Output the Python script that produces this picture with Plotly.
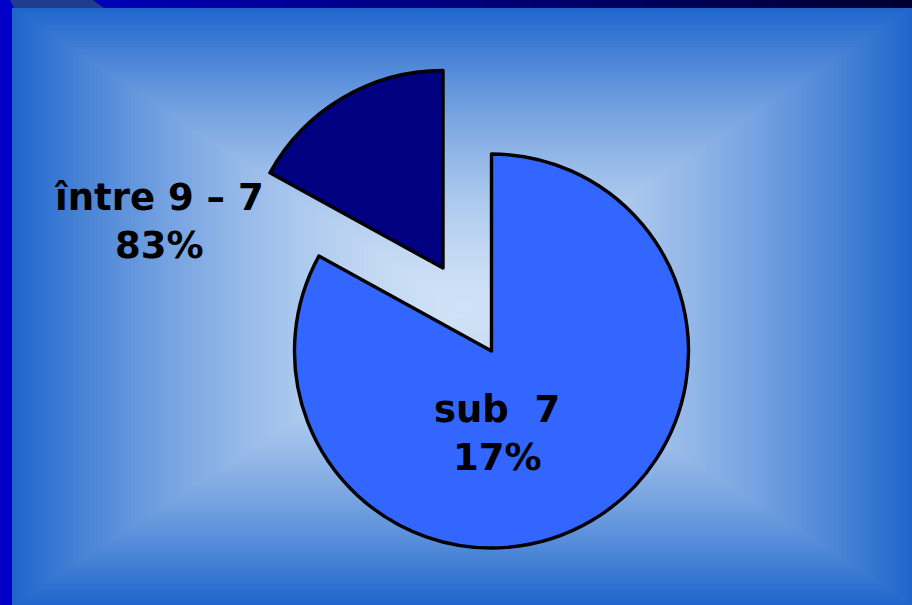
import plotly.graph_objects as go

# ---- data ----
labels = ["sub  7", "între 9 – 7"]
values = [83, 17]
shown_pct = ["17%", "83%"]
slice_colors = ["#3366ff", "#000080"]

W, H = 912, 605


def px(x):
    return x / W


def py(y):
    return 1 - y / H


def hex2rgb(h):
    h = h.lstrip("#")
    return tuple(int(h[i:i + 2], 16) for i in (0, 2, 4))


def lerp(c1, c2, f):
    a, b = hex2rgb(c1), hex2rgb(c2)
    return "rgb(%d,%d,%d)" % tuple(round(a[i] + (b[i] - a[i]) * f) for i in range(3))


shapes = []
# left frame bar
shapes.append(dict(type="rect", xref="paper", yref="paper", x0=0, x1=px(12), y0=0, y1=1,
                   fillcolor="#0000c8", line_width=0, layer="below"))
# top frame bar (horizontal gradient)
NT = 40
for i in range(NT):
    x0 = 12 + (W - 12) * i / NT
    x1 = 12 + (W - 12) * (i + 1) / NT + 0.5
    shapes.append(dict(type="rect", xref="paper", yref="paper", x0=px(x0), x1=px(x1),
                       y0=py(8), y1=1, fillcolor=lerp("#0000c4", "#000030", i / (NT - 1)),
                       line_width=0, layer="below"))
shapes.append(dict(type="rect", xref="paper", yref="paper", x0=0, x1=px(12),
                   y0=py(8), y1=1, fillcolor="#0000c8", line_width=0, layer="below"))
# slanted slab in top-left corner of bar
shapes.append(dict(type="path", xref="paper", yref="paper",
                   path="M %f,%f L %f,%f L %f,%f L %f,%f Z" % (px(10), py(0), px(93), py(0),
                                                               px(104), py(8), px(14), py(8)),
                   fillcolor="#203c8e", line_width=0, layer="below"))

# box gradient background
edge_c, center_c = "#1f66cc", "#cfe1f6"
X0, X1, Y0, Y1 = 12, W, 8, H
CX, CY = 462, 310
N = 110
for i in range(N):
    t = i / N
    f = 1 - (1 - t) ** 1.6
    shapes.append(dict(type="rect", xref="paper", yref="paper",
                       x0=px(X0 + t * (CX - X0)), x1=px(X1 - t * (X1 - CX)),
                       y0=py(Y1 - t * (Y1 - CY)), y1=py(Y0 + t * (CY - Y0)),
                       fillcolor=lerp(edge_c, center_c, f), line_width=0, layer="below"))

fig = go.Figure()

# main pie (large slice shown)
cA, rA = (491.5, 351.0), 197.0
fig.add_trace(go.Pie(
    labels=labels, values=values, sort=False, direction="clockwise", rotation=0,
    marker=dict(colors=[slice_colors[0], "rgba(0,0,0,0)"],
                line=dict(color="black", width=[3.4, 0])),
    textinfo="none", hoverinfo="skip", showlegend=False,
    domain=dict(x=[px(cA[0] - rA), px(cA[0] + rA)], y=[py(cA[1] + rA), py(cA[1] - rA)]),
))
# exploded small slice
cB, rB = (443.0, 268.0), 197.5
fig.add_trace(go.Pie(
    labels=labels, values=values, sort=False, direction="clockwise", rotation=0,
    marker=dict(colors=["rgba(0,0,0,0)", slice_colors[1]],
                line=dict(color="black", width=[0, 3.4])),
    textinfo="none", hoverinfo="skip", showlegend=False,
    domain=dict(x=[px(cB[0] - rB), px(cB[0] + rB)], y=[py(cB[1] + rB), py(cB[1] - rB)]),
))

label_pos = [(497, 433), (158.5, 221)]
annotations = []
for lab, pct, (x, y) in zip(labels, shown_pct, label_pos):
    annotations.append(dict(
        x=px(x), y=py(y), xref="paper", yref="paper", xanchor="center", yanchor="middle",
        text=lab.replace(" ", "\u00a0") + "<br>" + pct, showarrow=False,
        font=dict(family="DejaVu Sans", size=37, color="black", weight="bold"),
    ))

fig.update_layout(
    width=W, height=H, margin=dict(l=0, r=0, t=0, b=0),
    paper_bgcolor="#1f66cc", plot_bgcolor="#1f66cc",
    shapes=shapes, annotations=annotations,
)

fig.write_html("out.html", config={"displayModeBar": False},
               post_script="document.body.style.margin='0';document.body.style.overflow='hidden';")
